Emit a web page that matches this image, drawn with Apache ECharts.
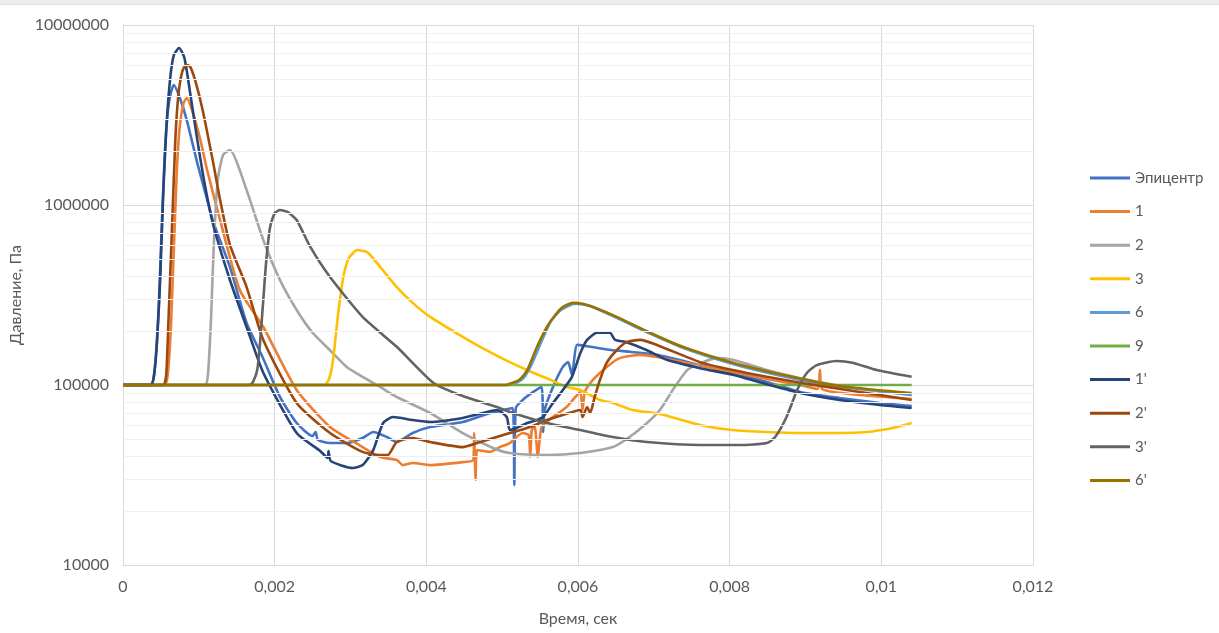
<!DOCTYPE html>
<html>
<head>
<meta charset="utf-8">
<script src="https://cdn.jsdelivr.net/npm/echarts@6/dist/echarts.min.js"></script>
<style>
html,body{margin:0;padding:0;background:#fff;overflow:hidden;}
#chart{width:1219px;height:633px;}
</style>
</head>
<body>
<div id="chart"></div>
<script>
// Time (s), pressure (Pa)
const seriesNames = ['Эпицентр', '1', '2', '3', '6', '9', "1'", "2'", "3'", "6'"];
const seriesColors = ['#4472C4', '#ED7D31', '#A5A5A5', '#FFC000', '#5B9BD5', '#70AD47', '#264478', '#9E480E', '#636363', '#997300'];

const xTicks = [0, 0.002, 0.004, 0.006, 0.008, 0.01, 0.012];
const yTicks = [10000, 100000, 1000000, 10000000];
const yMinorGrid = [20000, 30000, 40000, 50000, 60000, 70000, 80000, 90000,
  200000, 300000, 400000, 500000, 600000, 700000, 800000, 900000,
  2000000, 3000000, 4000000, 5000000, 6000000, 7000000, 8000000, 9000000];

const epicentr = [
  [0, 1e5], [0.000356, 1e5], [0.0004, 1.07e5], [0.000435, 1.47e5], [0.000475, 2.97e5], [0.000514, 8.25e5],
  [0.000554, 2.02e6], [0.000593, 3.37e6], [0.000633, 4.25e6], [0.00067, 4.64e6], [0.00075, 3.93e6],
  [0.00084, 2.97e6], [0.00098, 1.71e6], [0.00111, 1.07e6], [0.00119, 8.05e5], [0.00141, 4.53e5],
  [0.00163, 2.21e5], [0.00184, 1.43e5], [0.00207, 8.58e4], [0.00229, 6.15e4], [0.0025, 5.21e4],
  [0.00254, 5.48e4], [0.00257, 4.95e4], [0.00273, 4.76e4], [0.00295, 4.76e4], [0.00316, 5.08e4],
  [0.0033, 5.48e4], [0.00348, 5.14e4], [0.00361, 4.82e4], [0.00382, 5.41e4], [0.00405, 5.84e4],
  [0.00448, 6.23e4], [0.00484, 6.99e4], [0.00501, 7.26e4],
  [0.00514, 7.45e4], [0.00516, 2.78e4], [0.00518, 7.45e4], [0.00527, 8.25e4], [0.00541, 9.15e4],
  [0.00552, 9.75e4], [0.00554, 5.48e4], [0.00556, 7.26e4], [0.00567, 9.75e4], [0.0058, 1.26e5],
  [0.00587, 1.34e5], [0.00592, 1.14e5], [0.00599, 1.67e5], [0.00616, 1.63e5], [0.00646, 1.56e5],
  [0.00668, 1.53e5], [0.00704, 1.47e5], [0.00761, 1.29e5], [0.00804, 1.17e5], [0.00849, 1.04e5],
  [0.00893, 9.15e4], [0.00945, 8.47e4], [0.00998, 7.94e4], [0.0104, 7.64e4]
];

const s1 = [
  [0, 1e5], [0.00055, 1e5], [0.00059, 1.14e5], [0.00063, 2.02e5], [0.00067, 5.62e5], [0.00071, 1.56e6],
  [0.00075, 2.78e6], [0.0008, 3.69e6], [0.00084, 3.93e6], [0.00091, 3.37e6], [0.00102, 2.3e6],
  [0.00111, 1.56e6], [0.00128, 8.25e5], [0.00154, 3.37e5], [0.00185, 2.1e5], [0.00229, 9.38e4],
  [0.00273, 5.84e4], [0.00316, 4.52e4], [0.00339, 3.98e4],
  [0.00361, 3.83e4], [0.00369, 3.59e4], [0.00382, 3.69e4], [0.00405, 3.59e4], [0.00448, 3.73e4],
  [0.00462, 3.83e4], [0.00463, 5.41e4], [0.00465, 2.97e4], [0.00467, 4.35e4], [0.00484, 4.25e4], [0.00497, 4.52e4],
  [0.0051, 4.76e4], [0.00527, 5.41e4], [0.00535, 5.27e4], [0.00537, 3.98e4], [0.00539, 5.62e4],
  [0.00543, 5.84e4], [0.00547, 3.98e4], [0.00552, 5.84e4], [0.00567, 6.64e4], [0.00585, 7.55e4],
  [0.00593, 8.25e4], [0.00603, 9.15e4], [0.00606, 7.26e4], [0.00609, 9.15e4], [0.0062, 1.07e5],
  [0.00638, 1.26e5], [0.00655, 1.41e5], [0.00682, 1.47e5], [0.00704, 1.43e5], [0.00761, 1.28e5],
  [0.00804, 1.18e5], [0.00849, 1.08e5], [0.00893, 1.0e5], [0.00916, 9.5e4], [0.00919, 1.21e5],
  [0.00922, 9.5e4], [0.00972, 8.8e4], [0.0104, 8.36e4]
];

const s2 = [
  [0, 1e5], [0.00108, 1e5], [0.00112, 1.14e5], [0.00116, 2.3e5], [0.0012, 6.39e5], [0.00125, 1.38e6],
  [0.00132, 1.9e6], [0.00141, 2.02e6], [0.00163, 1.21e6], [0.00185, 6.39e5], [0.00207, 3.83e5],
  [0.00229, 2.61e5], [0.0025, 1.95e5], [0.00273, 1.56e5], [0.00295, 1.26e5], [0.00316, 1.11e5],
  [0.00339, 9.75e4], [0.00361, 8.58e4], [0.00405, 6.99e4], [0.00448, 5.41e4], [0.00488, 4.47e4],
  [0.0051, 4.19e4], [0.00559, 4.08e4], [0.00603, 4.19e4], [0.00646, 4.52e4], [0.00668, 5.14e4],
  [0.00691, 6.15e4], [0.00708, 7.26e4], [0.00725, 9.38e4], [0.00744, 1.21e5], [0.00765, 1.34e5],
  [0.00783, 1.41e5], [0.00804, 1.38e5], [0.00849, 1.21e5], [0.00893, 1.09e5], [0.00972, 9.5e4],
  [0.0104, 8.8e4]
];

const s3 = [
  [0, 1e5], [0.00266, 1e5], [0.00272, 1.09e5], [0.00277, 1.38e5], [0.00282, 2.15e5], [0.00286, 2.97e5],
  [0.00291, 4.08e5], [0.00298, 5.08e5], [0.00309, 5.62e5], [0.00322, 5.47e5], [0.00339, 4.53e5],
  [0.00361, 3.5e5], [0.00382, 2.86e5], [0.00405, 2.39e5], [0.00448, 1.85e5], [0.00471, 1.63e5],
  [0.0051, 1.34e5], [0.00541, 1.17e5], [0.00559, 1.09e5], [0.00585, 9.75e4], [0.00603, 9.38e4],
  [0.00629, 8.25e4], [0.00646, 7.94e4], [0.00672, 7.26e4], [0.00708, 6.9e4], [0.00761, 6.0e4],
  [0.00804, 5.62e4], [0.00849, 5.48e4], [0.00893, 5.41e4], [0.00936, 5.41e4], [0.00981, 5.48e4],
  [0.01015, 5.77e4], [0.0104, 6.15e4]
];

const s6 = [
  [0, 1e5], [0.0051, 1e5], [0.00519, 1.03e5], [0.00528, 1.09e5], [0.00538, 1.28e5], [0.00551, 1.71e5],
  [0.00564, 2.25e5], [0.00577, 2.6e5], [0.00596, 2.83e5], [0.00616, 2.75e5], [0.00651, 2.36e5],
  [0.00695, 1.93e5], [0.00738, 1.61e5], [0.00804, 1.31e5], [0.0087, 1.12e5], [0.00936, 9.9e4],
  [0.00994, 9.3e4], [0.0104, 8.8e4]
];

const s9 = [[0, 1e5], [0.0104, 1e5]];

const s1p = [
  [0, 1e5], [0.00037, 1e5], [0.00041, 1.14e5], [0.00045, 1.78e5], [0.00049, 3.83e5], [0.00053, 1.14e6],
  [0.00057, 2.61e6], [0.00062, 4.95e6], [0.00067, 6.81e6], [0.00074, 7.45e6], [0.00081, 6.56e6],
  [0.00088, 4.35e6], [0.00098, 2.3e6], [0.00108, 1.29e6], [0.00119, 7.74e5], [0.00141, 3.83e5],
  [0.00163, 2.1e5], [0.00185, 1.17e5], [0.00229, 5.41e4], [0.0026, 4.3e4],
  [0.0027, 3.93e4], [0.00271, 4.3e4], [0.00274, 3.78e4], [0.00303, 3.46e4], [0.00316, 3.59e4],
  [0.0033, 4.35e4], [0.00343, 6.15e4], [0.00356, 6.64e4], [0.00382, 6.39e4], [0.00405, 6.23e4],
  [0.00448, 6.56e4], [0.00475, 6.99e4], [0.00493, 7.26e4], [0.00506, 6.64e4], [0.0051, 5.62e4],
  [0.00519, 5.77e4], [0.00533, 6.15e4],
  [0.00546, 6.39e4], [0.00554, 6.64e4], [0.00567, 7.94e4], [0.0058, 9.38e4], [0.00592, 1.11e5],
  [0.00603, 1.5e5], [0.00612, 1.78e5], [0.00625, 1.95e5], [0.00642, 1.95e5], [0.00649, 1.78e5],
  [0.00664, 1.73e5], [0.00691, 1.56e5], [0.00717, 1.38e5], [0.00761, 1.24e5], [0.00804, 1.14e5],
  [0.00849, 1.01e5], [0.00893, 9.03e4], [0.00945, 8.25e4], [0.00998, 7.74e4], [0.0104, 7.45e4]
];

const s2p = [
  [0, 1e5], [0.00053, 1e5], [0.00057, 1.14e5], [0.0006, 2.3e5], [0.00065, 8.25e5], [0.00069, 2.3e6],
  [0.00073, 4.08e6], [0.00078, 5.48e6], [0.00083, 6.0e6], [0.00088, 5.92e6], [0.00095, 4.95e6],
  [0.00105, 3.37e6], [0.00119, 1.71e6], [0.00128, 1.07e6], [0.00141, 6.0e5], [0.00163, 3.5e5],
  [0.00185, 1.78e5], [0.00229, 7.94e4], [0.00273, 5.41e4], [0.00316, 4.25e4], [0.00339, 4.08e4],
  [0.00349, 4.08e4], [0.00361, 4.82e4], [0.00382, 5.08e4], [0.00405, 4.82e4], [0.00448, 4.52e4],
  [0.00467, 4.76e4], [0.0051, 5.41e4], [0.00537, 5.84e4], [0.00559, 6.39e4], [0.0058, 6.81e4], [0.00603, 7.26e4],
  [0.00606, 6.64e4], [0.00612, 7.55e4], [0.00616, 6.99e4], [0.00622, 8.58e4], [0.00629, 1.07e5],
  [0.00638, 1.33e5], [0.00651, 1.56e5], [0.00664, 1.73e5], [0.00682, 1.78e5], [0.00704, 1.67e5],
  [0.00761, 1.34e5], [0.00804, 1.21e5], [0.00849, 1.11e5], [0.00893, 1.03e5], [0.00972, 9.15e4],
  [0.0104, 8.25e4]
];

const s3p = [
  [0, 1e5], [0.00167, 1e5], [0.00171, 1.03e5], [0.00177, 1.21e5], [0.00181, 1.78e5], [0.00185, 2.97e5],
  [0.00189, 4.95e5], [0.00194, 7.55e5], [0.002, 9.0e5], [0.00207, 9.38e5], [0.00217, 9.15e5],
  [0.00229, 8.25e5], [0.00247, 5.85e5], [0.00273, 3.98e5], [0.00316, 2.39e5], [0.00361, 1.63e5],
  [0.00409, 1.03e5], [0.00448, 8.68e4], [0.00493, 7.55e4], [0.00514, 6.99e4], [0.00559, 6.15e4],
  [0.00603, 5.62e4], [0.00646, 5.14e4], [0.00691, 4.82e4], [0.00761, 4.64e4], [0.00813, 4.64e4],
  [0.00849, 4.76e4], [0.0086, 5.14e4], [0.00875, 6.64e4], [0.00889, 9.38e4], [0.00902, 1.17e5],
  [0.00915, 1.29e5], [0.00941, 1.36e5], [0.00962, 1.33e5], [0.00994, 1.21e5], [0.0104, 1.11e5]
];

const s6p = [
  [0, 1e5], [0.00504, 1e5], [0.00514, 1.03e5], [0.00523, 1.07e5], [0.00533, 1.21e5], [0.00546, 1.63e5],
  [0.00559, 2.1e5], [0.0057, 2.45e5], [0.0058, 2.71e5], [0.00593, 2.86e5], [0.00606, 2.83e5],
  [0.0062, 2.71e5], [0.00651, 2.39e5], [0.00695, 1.95e5], [0.00738, 1.63e5], [0.00804, 1.33e5],
  [0.0087, 1.14e5], [0.00936, 1.0e5], [0.00994, 9.38e4], [0.0104, 9.03e4]
];

const seriesData = [epicentr, s1, s2, s3, s6, s9, s1p, s2p, s3p, s6p];

const FONT = 'Lato';
const TXT = '#595959';

const series = [{
  name: '__grid',
  type: 'line',
  data: [],
  silent: true,
  z: 0,
  markLine: {
    silent: true,
    symbol: 'none',
    label: { show: false },
    animation: false,
    lineStyle: { color: '#efefef', width: 1, type: 'solid' },
    data: yMinorGrid.map(v => ({ yAxis: v }))
  }
}];

seriesNames.forEach((n, i) => {
  series.push({
    name: n,
    type: 'line',
    data: seriesData[i],
    showSymbol: false,
    symbol: 'none',
    smooth: 0.2,
    animation: false,
    z: 2,
    lineStyle: { color: seriesColors[i], width: 2.6 },
    itemStyle: { color: seriesColors[i] }
  });
});

const chart = echarts.init(document.getElementById('chart'), null, { renderer: 'canvas' });
chart.setOption({
  backgroundColor: '#ffffff',
  animation: false,
  textStyle: { fontFamily: FONT },
  grid: { left: 123, top: 25, right: 186, bottom: 68, containLabel: false, outerBoundsMode: 'none' },
  graphic: [
    { type: 'rect', left: 0, top: 0, shape: { width: 1219, height: 4 }, style: { fill: '#ececec' }, silent: true },
    { type: 'rect', left: 0, top: 4, shape: { width: 1219, height: 1 }, style: { fill: '#e0e0e0' }, silent: true }
  ],
  legend: {
    orient: 'vertical',
    left: 1085,
    top: 165,
    itemWidth: 40,
    itemHeight: 3,
    itemGap: 17.6,
    icon: 'rect',
    data: seriesNames,
    textStyle: { color: TXT, fontSize: 15, fontFamily: FONT, lineHeight: 16 }
  },
  xAxis: {
    type: 'value',
    min: 0,
    max: 0.012,
    interval: 0.002,
    name: 'Время, сек',
    nameLocation: 'middle',
    nameGap: 46,
    nameTextStyle: { color: TXT, fontSize: 16, fontFamily: FONT },
    axisLine: { show: true, onZero: false, lineStyle: { color: '#d9d9d9', width: 1 } },
    axisTick: { show: false },
    axisLabel: {
      color: TXT, fontSize: 16, fontFamily: FONT, margin: 14,
      formatter: v => String(Math.round(v * 1e6) / 1e6).replace('.', ',')
    },
    splitLine: { show: true, lineStyle: { color: '#d9d9d9', width: 1 } }
  },
  yAxis: {
    type: 'log',
    logBase: 10,
    min: 10000,
    max: 10000000,
    name: 'Давление, Па',
    nameLocation: 'middle',
    nameGap: 94,
    nameRotate: 90,
    nameTextStyle: { color: TXT, fontSize: 16, fontFamily: FONT },
    axisLine: { show: true, lineStyle: { color: '#d9d9d9', width: 1 } },
    axisTick: { show: false },
    axisLabel: {
      color: TXT, fontSize: 16, fontFamily: FONT, margin: 14,
      formatter: v => String(Math.round(v))
    },
    splitLine: { show: true, lineStyle: { color: '#d9d9d9', width: 1 } }
  },
  series: series
});
</script>
</body>
</html>
